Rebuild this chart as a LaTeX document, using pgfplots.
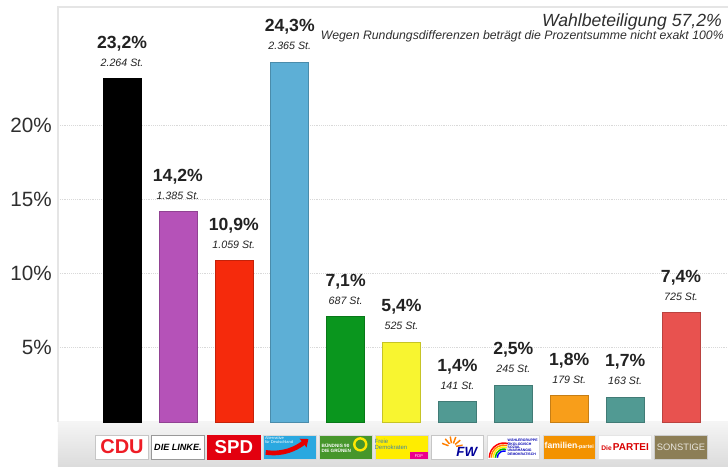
\documentclass[border=0pt]{standalone}
\usepackage{fontspec}
\setmainfont{Liberation Sans}
\usepackage{pgfplots}
\pgfplotsset{compat=1.18}
\usetikzlibrary{arrows.meta}
\pgfkeys{/pgf/number format/assume math mode=true}

\definecolor{cdu}{HTML}{000000}
\definecolor{linke}{HTML}{B552B8}
\definecolor{spd}{HTML}{F52A0C}
\definecolor{afd}{HTML}{5DAFD6}
\definecolor{gruene}{HTML}{0A961E}
\definecolor{fdp}{HTML}{F8F530}
\definecolor{fw}{HTML}{519A93}
\definecolor{fam}{HTML}{F89E1A}
\definecolor{sonst}{HTML}{E8524F}
\definecolor{txt}{HTML}{222222}
\definecolor{ticktxt}{HTML}{2E2E2E}
\definecolor{cdured}{HTML}{EE1C25}
\definecolor{spdred}{HTML}{E3000F}
\definecolor{afdblue}{HTML}{2AA8E0}
\definecolor{gruenlogo}{HTML}{46962B}
\definecolor{fdyellow}{HTML}{FFED00}
\definecolor{famorange}{HTML}{F39200}
\definecolor{sonstolive}{HTML}{8C7E56}

\newcommand\fs[1]{\fontsize{#1}{#1}\selectfont}
\newcommand\lbl{\hbox{\makebox[0pt]{\raisebox{13.5pt}{\fs{13.2}\bfseries\pgfmathprintnumber[fixed,fixed zerofill,precision=1,use comma]{\yval}\%}}\makebox[0pt]{\fs{8}\itshape\pgfplotspointmeta\ St.}}}
\newcommand\logo[3]{\tikz[baseline=(c.north), every node/.append style={anchor=center}]{\node[draw=#1, fill=#2, minimum width=39.5pt, minimum height=18pt, inner sep=0pt, line width=0.6pt, anchor=center](c) at (0,0){}; #3}}

\pgfplotsset{b/.style={fill=#1, draw=#1!80!black, bar shift=0pt}}

\begin{document}
\begin{tikzpicture}
\path[use as bounding box] (-43.5pt,-33.75pt) rectangle (502.5pt,316.5pt);
\shade[top color=gray!8, bottom color=gray!28] (0,0) rectangle (502.5pt,-33.75pt);
\begin{axis}[
  at={(0,0)}, anchor=south west,
  scale only axis, width=502.5pt, height=311.25pt,
  xmin=-1.145, xmax=10.84, ymin=0, ymax=28,
  ybar, bar width=28.5pt,
  axis line style={draw=none},
  major tick style={draw=none},
  ytick={5,10,15,20},
  yticklabel={\pgfmathprintnumber{\tick}\%},
  yticklabel style={font=\fs{15.5}, text=ticktxt, inner sep=0pt, xshift=-4.5pt},
  ymajorgrids,
  grid style={gray!30, densely dotted, line width=0.7pt},
  xtick={0,...,10},
  xticklabel shift=5pt,
  xticklabel style={inner sep=0pt},
  xticklabels={
    {\logo{gray!45}{white}{\node[text=cdured, font=\fs{15}\bfseries, inner sep=0pt] at (0,0) {CDU};}},
    {\logo{gray!80}{white}{\draw[gray!80,line width=0.8pt] (-19.75pt,-9pt) rectangle (19.75pt,9pt); \node[text=black, font=\fs{6.8}\bfseries\itshape, inner sep=0pt] at (0,0) {DIE LINKE.};}},
    {\logo{spdred}{spdred}{\node[text=white, font=\fs{14}\bfseries, inner sep=0pt] at (0,0) {SPD};}},
    {\logo{gray!30}{afdblue}{\draw[red!90!black, line width=3.5pt, -{Triangle[width=8pt,length=5pt]}] (-18pt,-4pt) .. controls (-5pt,-6pt) and (5pt,-1pt) .. (14pt,6pt); \node[text=white, font=\fs{3}, inner sep=0pt, align=left] at (-8pt,5pt) {Alternative\\für Deutschland};}},
    {\logo{gray!30}{gruenlogo}{\node[text=white, font=\fs{3.5}\bfseries, align=left, inner sep=0pt] at (-7pt,-1pt) {BÜNDNIS 90\\DIE GRÜNEN}; \draw[yellow!90!orange, line width=1.8pt] (11pt,2pt) circle (4.5pt);}},
    {\logo{gray!30}{fdyellow}{\node[text=cyan!60!black, font=\fs{4.5}, align=left, inner sep=0pt] at (-8pt,2pt) {Freie\\Demokraten}; \fill[magenta] (6pt,-9pt) rectangle (19.75pt,-4pt); \node[text=white, font=\fs{3}, inner sep=0pt] at (13pt,-6.5pt) {FDP};}},
    {\logo{gray!45}{white}{\foreach \a in {10,40,...,170} \draw[orange, line width=1.1pt] (-4pt,0pt) -- ++(\a:8pt); \fill[white] (-4pt,0pt) circle (3pt); \node[text=blue!60!black, font=\fs{10}\bfseries\itshape, inner sep=0pt] at (7pt,-3.5pt) {FW};}},
    {\logo{gray!30}{white}{\draw[red, line width=1.1pt] (-18pt,-8pt) arc(180:75:11pt); \draw[orange, line width=1.1pt] (-16.5pt,-8pt) arc(180:75:9.5pt); \draw[yellow, line width=1.1pt] (-15pt,-8pt) arc(180:75:8pt); \draw[green!70!black, line width=1.1pt] (-13.5pt,-8pt) arc(180:75:6.5pt); \draw[blue, line width=1.1pt] (-12pt,-8pt) arc(180:75:5pt); \node[text=blue!70!black, font=\fs{2.6}\bfseries, align=left, inner sep=0pt] at (7pt,0pt) {WÄHLERGRUPPE\\ÖKOLOGISCH\\SOZIAL\\UNABHÄNGIG\\DEMOKRATISCH};}},
    {\logo{gray!30}{famorange}{\node[text=white, font=\fs{6.5}\bfseries, inner sep=0pt] at (0,1pt) {familien\fs{4}-partei};}},
    {\logo{gray!20}{white}{\node[text=red!85!black, font=\fs{7.5}\bfseries, inner sep=0pt] at (0,0) {\fs{5}Die\,\fs{7.5}PARTEI};}},
    {\logo{gray!40}{sonstolive}{\node[text=white!80!sonstolive, font=\fs{7}, inner sep=0pt] at (0,0) {SONSTIGE};}}
  },
  point meta=explicit symbolic,
  visualization depends on={y \as \yval},
  nodes near coords={\lbl},
  every node near coord/.append style={anchor=base, inner sep=0pt, yshift=9pt, text=txt},
  clip=false,
]
\addplot[b=cdu]    coordinates {(0,23.2) [2.264]};
\addplot[b=linke]  coordinates {(1,14.2) [1.385]};
\addplot[b=spd]    coordinates {(2,10.9) [1.059]};
\addplot[b=afd]    coordinates {(3,24.3) [2.365]};
\addplot[b=gruene] coordinates {(4,7.1) [687]};
\addplot[b=fdp]    coordinates {(5,5.4) [525]};
\addplot[b=fw]     coordinates {(6,1.4) [141]};
\addplot[b=fw]     coordinates {(7,2.5) [245]};
\addplot[b=fam]    coordinates {(8,1.8) [179]};
\addplot[b=fw]     coordinates {(9,1.7) [163]};
\addplot[b=sonst]  coordinates {(10,7.4) [725]};
\end{axis}
\draw[gray!20, line width=0.9pt] (0,0) -- (0,311.25pt) -- (502.5pt,311.25pt);
\node[anchor=base east, font=\fs{13.2}\itshape, text=ticktxt, inner sep=0pt] at (498pt,296.25pt) {Wahlbeteiligung 57,2\%};
\node[anchor=base east, font=\fs{9.2}\itshape, text=ticktxt, inner sep=0pt] at (499.5pt,286.9pt) {Wegen Rundungsdifferenzen beträgt die Prozentsumme nicht exakt 100\%};
\end{tikzpicture}
\end{document}
